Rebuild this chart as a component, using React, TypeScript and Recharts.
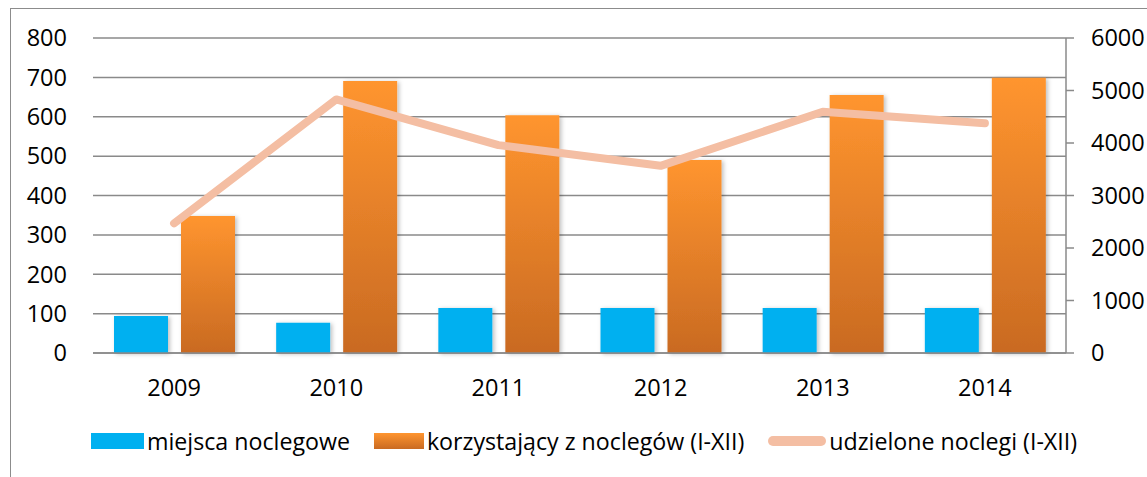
import React from 'react';
import { ComposedChart, Bar, Line, XAxis, YAxis, CartesianGrid, Legend } from 'recharts';

const years = ['2009', '2010', '2011', '2012', '2013', '2014'];
const miejsca = [94, 77, 114, 114, 114, 114];
const korzystajacy = [348, 691, 604, 490, 655, 699];
const udzielone = [2470, 4830, 3960, 3565, 4595, 4375];
const leftTicks = [0, 100, 200, 300, 400, 500, 600, 700, 800];
const rightTicks = [0, 1000, 2000, 3000, 4000, 5000, 6000];

const seriesNames = {
  miejsca: 'miejsca noclegowe',
  korzystajacy: 'korzystający z noclegów (I-XII)',
  udzielone: 'udzielone noclegi (I-XII)',
};

const data = years.map((y, i) => ({
  year: y,
  miejsca: miejsca[i],
  korzystajacy: korzystajacy[i],
  udzielone: udzielone[i],
}));

const FONT = '"Open Sans", "Noto Sans", sans-serif';
const GRID = '#8a8a8a';
const BLUE = '#00B0F0';
const LINE = '#F4BEA3';
const TICK_FS = 23.5;

const LegendContent = () => {
  const items = [
    { key: 'miejsca', type: 'blue' },
    { key: 'korzystajacy', type: 'orange' },
    { key: 'udzielone', type: 'line' },
  ];
  return (
    <div style={{ display: 'flex', alignItems: 'center', height: 40, paddingLeft: 91, fontFamily: FONT, fontSize: 23.2, color: '#000' }}>
      {items.map((it, idx) => (
        <div key={it.key} style={{ display: 'flex', alignItems: 'center', marginRight: idx < 2 ? 24 : 0 }}>
          {it.type === 'blue' && <div style={{ width: 53, height: 16, background: BLUE }} />}
          {it.type === 'orange' && (
            <div style={{ width: 50, height: 16, background: 'linear-gradient(#FF952F, #C96A22)' }} />
          )}
          {it.type === 'line' && <div style={{ width: 58, height: 10, borderRadius: 5, background: LINE }} />}
          <span style={{ marginLeft: 3, whiteSpace: 'nowrap' }}>{(seriesNames as any)[it.key]}</span>
        </div>
      ))}
    </div>
  );
};

export default function App() {
  return (
    <div style={{ position: 'fixed', left: 0, top: 0, width: 1147, height: 477, overflow: 'hidden', background: '#fff' }}>
      <div
        style={{
          position: 'absolute',
          left: 10,
          top: 8,
          width: 1200,
          height: 520,
          border: '1.5px solid #8c8c8c',
          boxSizing: 'border-box',
        }}
      />
      <div style={{ position: 'absolute', left: 0, top: 0 }}>
        <ComposedChart
          width={1147}
          height={477}
          data={data}
          margin={{ top: 38, right: 0, bottom: 16, left: 0 }}
          barGap={13}
          barSize={54}
        >
          <defs>
            <linearGradient id="orangeGrad" x1="0" y1="0" x2="0" y2="1">
              <stop offset="0%" stopColor="#FF952F" />
              <stop offset="100%" stopColor="#C96A22" />
            </linearGradient>
            <filter id="barShadow" x="-20%" y="-10%" width="150%" height="130%">
              <feDropShadow dx="2" dy="1" stdDeviation="2" floodColor="#000" floodOpacity="0.25" />
            </filter>
          </defs>
          <CartesianGrid yAxisId="left" vertical={false} stroke={GRID} strokeWidth={1.5} />
          <XAxis
            dataKey="year"
            height={68}
            tickLine={false}
            tickSize={0}
            tickMargin={26}
            axisLine={{ stroke: GRID, strokeWidth: 1.5 }}
            tick={{ fill: '#000', fontSize: TICK_FS, fontFamily: FONT }}
          />
          <YAxis
            yAxisId="left"
            orientation="left"
            width={93}
            domain={[0, 800]}
            ticks={leftTicks}
            interval={0}
            axisLine={false}
            tickLine={false}
            tickSize={0}
            tickMargin={26}
            tick={{ fill: '#000', fontSize: TICK_FS, fontFamily: FONT }}
          />
          <YAxis
            yAxisId="right"
            orientation="right"
            width={81}
            domain={[0, 6000]}
            ticks={rightTicks}
            interval={0}
            axisLine={{ stroke: GRID, strokeWidth: 1.5 }}
            tickLine={{ stroke: GRID, strokeWidth: 1.5 }}
            tickSize={8}
            tickMargin={17}
            tick={{ fill: '#000', fontSize: TICK_FS, fontFamily: FONT }}
          />
          <Bar
            yAxisId="left"
            dataKey="miejsca"
            name={seriesNames.miejsca}
            fill={BLUE}
            filter="url(#barShadow)"
            isAnimationActive={false}
          />
          <Bar
            yAxisId="left"
            dataKey="korzystajacy"
            name={seriesNames.korzystajacy}
            fill="url(#orangeGrad)"
            filter="url(#barShadow)"
            isAnimationActive={false}
          />
          <Line
            yAxisId="right"
            dataKey="udzielone"
            name={seriesNames.udzielone}
            stroke={LINE}
            strokeWidth={8}
            strokeLinecap="round"
            strokeLinejoin="round"
            dot={false}
            activeDot={false}
            isAnimationActive={false}
          />
          <Legend
            verticalAlign="bottom"
            content={<LegendContent />}
            wrapperStyle={{ left: 0, width: 1147, height: 40, bottom: 16 }}
          />
        </ComposedChart>
      </div>
    </div>
  );
}
